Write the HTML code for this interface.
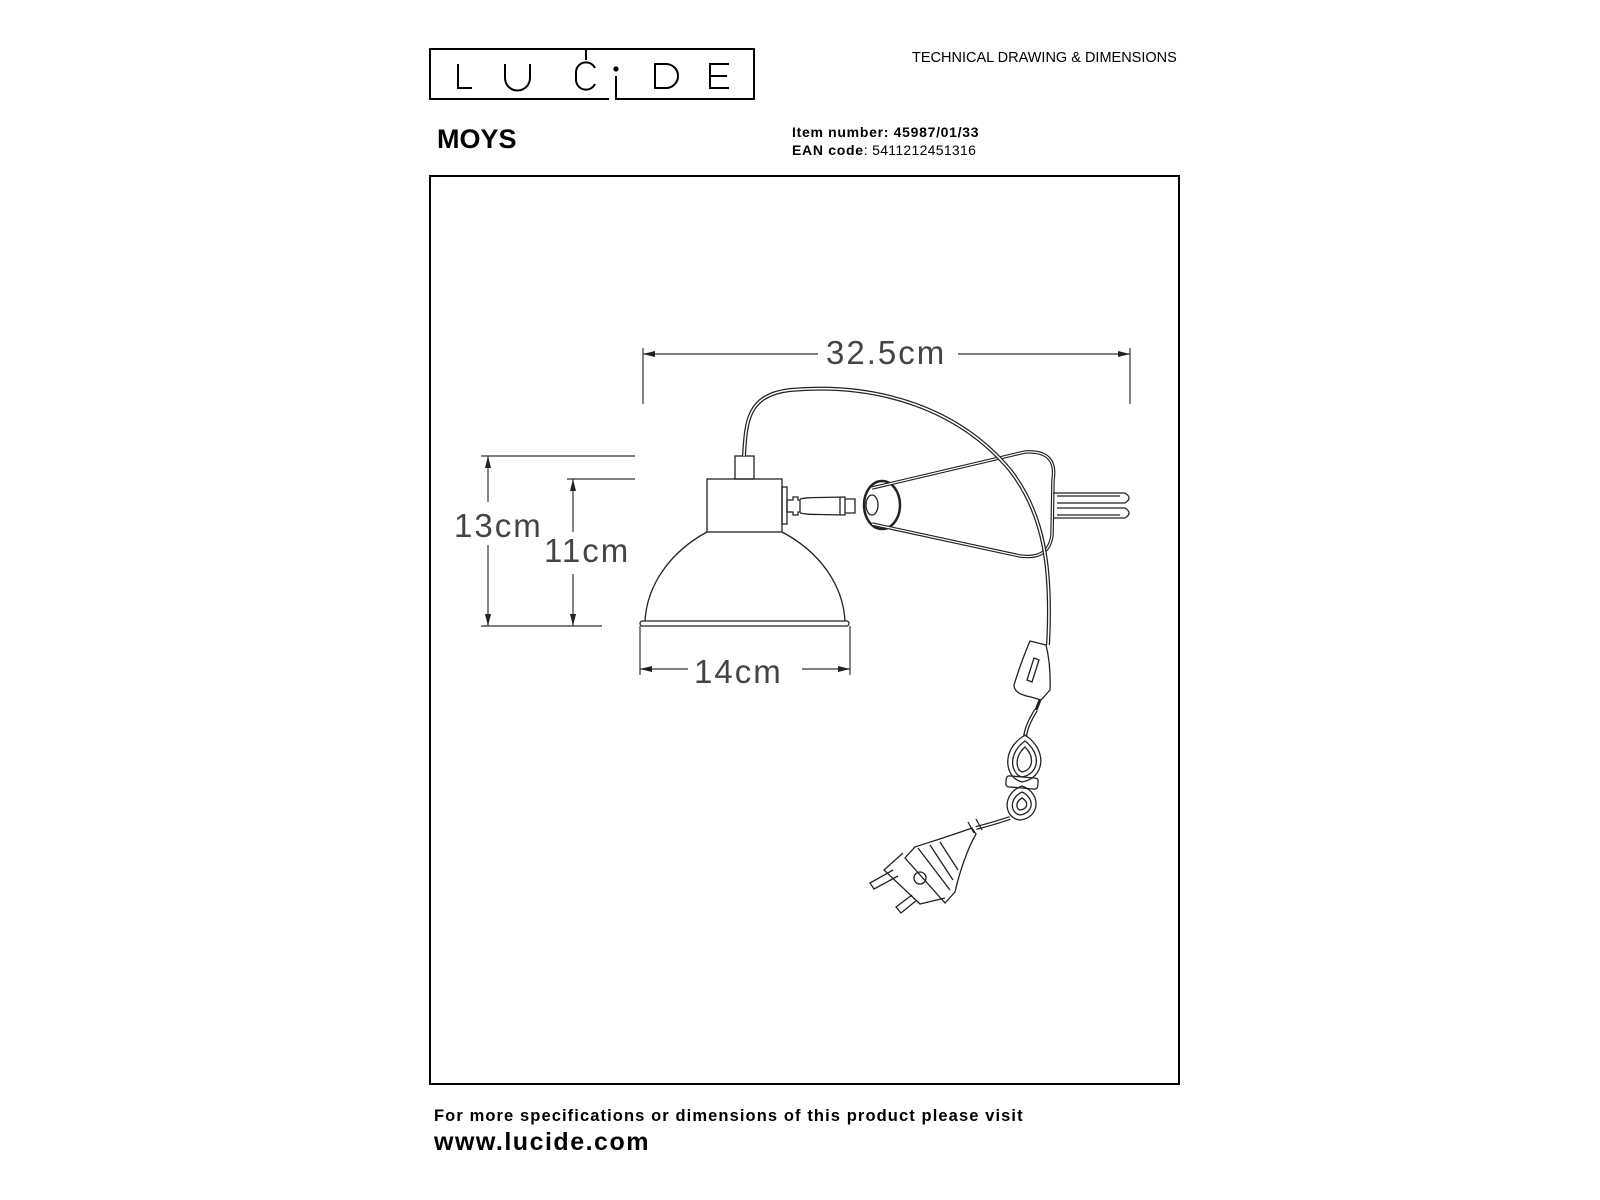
<!DOCTYPE html>
<html><head><meta charset="utf-8"><style>
html,body{margin:0;padding:0;background:#fff;}
body{width:1600px;height:1200px;position:relative;overflow:hidden;font-family:"Liberation Sans",sans-serif;}
.t{position:absolute;white-space:nowrap;color:#000;}
</style></head><body>
<svg width="1600" height="1200" style="position:absolute;left:0;top:0" xmlns="http://www.w3.org/2000/svg">
<g fill="none" stroke="#000" stroke-width="2">
<path d="M609,99 H430 V49 H754 V99 H616 V76"/>
<path d="M458,64 V88 H472"/>
<path d="M505,64 V78 A12.5,12.5 0 0 0 530,78 V64"/>
<path d="M595,68 A10,10 0 0 0 576,72 V80 A10,10 0 0 0 595,84"/>
<path d="M586,49 V60"/>
<circle cx="616" cy="69" r="1.6" fill="#000"/>
<path d="M655,64 V88 H666 A12,12 0 0 0 666,64 Z"/>
<path d="M729,64 H710 V88 H729 M710,76 H727"/>
</g>
<rect x="430" y="176" width="749" height="908" fill="none" stroke="#000" stroke-width="2"/>
<g fill="none" stroke="#333" stroke-width="1.2">
<path d="M643,348 V404 M1130,348 V404 M643,354 H818 M958,354 H1130"/>
<path d="M481,456 H635 M567,479 H635 M481,626 H602"/>
<path d="M488,456 V502 M488,545 V626 M573,479 V532 M573,574 V626"/>
<path d="M640,626 V675 M850,626 V675 M640,669 H688 M802,669 H850"/>
</g>
<g fill="#222">
<path d="M643,354 l12,-3 v6z M1130,354 l-12,-3 v6z"/>
<path d="M488,456 l-3,12 h6z M488,626 l-3,-12 h6z M573,479 l-3,12 h6z M573,626 l-3,-12 h6z"/>
<path d="M640,669 l12,-3 v6z M850,669 l-12,-3 v6z"/>
</g>
<g font-family="Liberation Sans, sans-serif" font-weight="300" fill="#444" font-size="33" letter-spacing="2">
<text x="826" y="364">32.5cm</text>
<text x="454" y="537">13cm</text>
<text x="544" y="562">11cm</text>
<text x="694" y="683">14cm</text>
</g>
<g fill="none" stroke="#222" stroke-width="1.3">
<rect x="735" y="456" width="19" height="23"/>
<rect x="707" y="479" width="75" height="53"/>
<path d="M707,532 C670,552 647,585 645,621 M782,532 C820,552 843,585 845,621"/>
<rect x="640" y="621" width="209" height="5" rx="2.5"/>
<rect x="782" y="487" width="5" height="37"/>
<path d="M787,500 h6 v-3 h5 v3 h2 v12 h-2 v3 h-5 v-3 h-6z"/>
<path d="M800,499 C810,497 810,498 845,497 V515 C810,514 810,515 800,513"/>
<path d="M840,497 v18 M845,499 h10 v14 h-10"/>
<ellipse cx="882" cy="505" rx="18" ry="24" stroke-width="2.5"/>
<ellipse cx="872" cy="505" rx="6" ry="10"/>
<path d="M872,488 L1025,452 Q1058,450 1053,480 L1052,535 Q1049,560 1020,556 L872,524" stroke-width="3.5"/>
<path d="M872,488 L1025,452 Q1058,450 1053,480 L1052,535 Q1049,560 1020,556 L872,524" stroke="#fff" stroke-width="1.2"/>
<path d="M1053,493 H1125 Q1133,498 1125,503 H1057 M1057,508 H1125 Q1133,513 1125,518 H1053 M1057,496 H1120 M1057,515 H1120"/>
<path d="M744,456 C746,420 748,395 790,390 C880,382 960,410 1010,470 C1045,515 1052,570 1048,645" stroke-width="4"/>
<path d="M744,456 C746,420 748,395 790,390 C880,382 960,410 1010,470 C1045,515 1052,570 1048,645" stroke="#fff" stroke-width="1.5"/>
<path d="M1030,641 L1046,645 Q1051,665 1050,690 L1041,700 L1031,697 Q1014,694 1014,685 Q1021,662 1030,641z"/>
<path d="M1034,658 L1039,660 L1032,682 L1027,680z"/>
<path d="M1040,700 L1036,710" stroke-width="3"/>
<path d="M1036,710 C1030,720 1026,728 1025,737" stroke-width="4"/>
<path d="M1036,710 C1030,720 1026,728 1025,737" stroke="#fff" stroke-width="1.5"/>
<!-- knot -->
<path d="M1025,735 C1000,750 1005,778 1022,782 C1045,778 1048,750 1025,735z"/>
<path d="M1025,741 C1007,754 1011,774 1022,777 C1039,774 1042,754 1025,741z"/>
<path d="M1025,747 C1014,757 1016,770 1022,772 C1033,770 1035,757 1025,747z"/>
<path d="M1022,786 C1002,793 1003,818 1020,820 C1040,818 1042,793 1022,786z"/>
<path d="M1022,792 C1009,798 1010,813 1020,815 C1034,813 1035,798 1022,792z"/>
<path d="M1022,798 C1015,802 1016,809 1020,810 C1028,809 1029,802 1022,798z"/>
<rect x="1006" y="777" width="32" height="11" rx="3" transform="rotate(5 1022 782)"/>
<path d="M1010,818 C998,822 988,825 976,828" stroke-width="4"/>
<path d="M1010,818 C998,822 988,825 976,828" stroke="#fff" stroke-width="1.5"/>
<!-- plug -->
<path d="M968,822 l6,11 M976,819 l6,11"/>
<path d="M972,828 C950,836 930,842 915,847 L905,858 L945,903 L955,892 C960,870 968,848 976,834z"/>
<path d="M918,848 L950,890 M930,845 L953,880 M940,842 L958,870"/>
<path d="M903,853 L884,870 L920,904 L945,898"/>
<circle cx="920" cy="878" r="6"/>
<path d="M893,870 L870,883 L874,889 L898,876 M912,895 L896,907 L901,913 L917,900"/>
</g>
</svg>
<div class="t" style="left:912px;top:50px;font-size:14.5px;">TECHNICAL DRAWING &amp; DIMENSIONS</div>
<div class="t" style="left:437px;top:124px;font-size:27px;font-weight:bold;">MOYS</div>
<div class="t" style="left:792px;top:124px;font-size:14px;font-weight:bold;letter-spacing:0.7px;">Item number: 45987/01/33</div>
<div class="t" style="left:792px;top:142px;font-size:14px;letter-spacing:0.3px;"><b style="letter-spacing:0.7px">EAN code</b>: 5411212451316</div>
<div class="t" style="left:434px;top:1107px;font-size:16.5px;font-weight:bold;letter-spacing:1.1px;">For more specifications or dimensions of this product please visit</div>
<div class="t" style="left:434px;top:1128px;font-size:25px;font-weight:bold;letter-spacing:1.5px;">www.lucide.com</div>
</body></html>
